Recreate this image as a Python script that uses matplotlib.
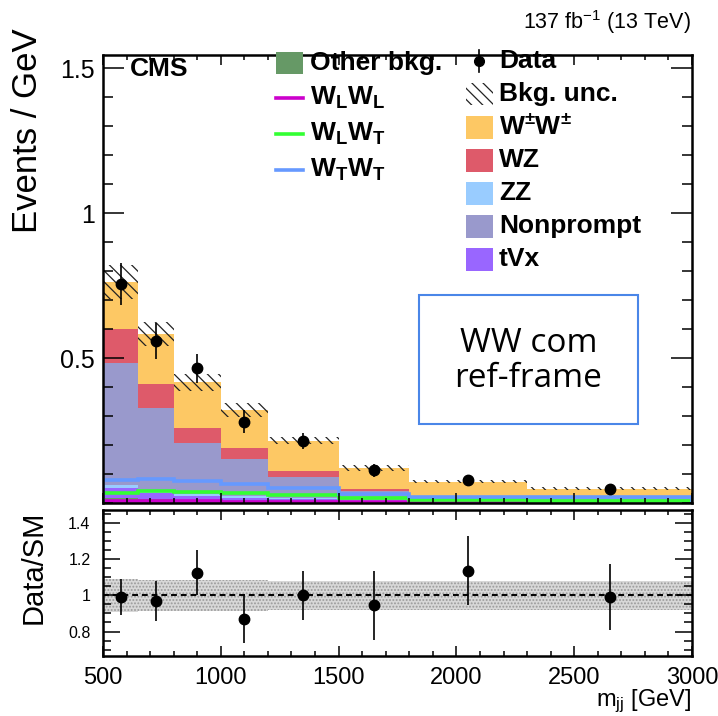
import numpy as np
import matplotlib
matplotlib.use("Agg")
import matplotlib.pyplot as plt
from matplotlib.patches import Rectangle
from matplotlib.lines import Line2D
from matplotlib.ticker import MultipleLocator, FixedLocator, FormatStrFormatter, NullFormatter

plt.rcParams['font.family'] = ['Liberation Sans', 'DejaVu Sans']
plt.rcParams['mathtext.fontset'] = 'custom'
plt.rcParams['mathtext.rm'] = 'Liberation Sans'
plt.rcParams['mathtext.bf'] = 'Liberation Sans:bold'
plt.rcParams['mathtext.default'] = 'regular'
plt.rcParams['hatch.linewidth'] = 0.9

# m_jj binning [GeV]
edges = np.array([500, 650, 800, 1000, 1200, 1500, 1800, 2300, 3000])

# stacked backgrounds + signal, events / GeV (bottom -> top)
other_bkg = [0.018, 0.015, 0.011, 0.008, 0.006, 0.004, 0.003, 0.002]
tvx       = [0.035, 0.020, 0.014, 0.010, 0.007, 0.004, 0.003, 0.002]
zz        = [0.010, 0.008, 0.006, 0.005, 0.004, 0.003, 0.002, 0.001]
nonprompt = [0.420, 0.286, 0.175, 0.129, 0.072, 0.029, 0.010, 0.012]
wz        = [0.117, 0.081, 0.054, 0.039, 0.022, 0.008, 0.004, 0.003]
wpmwpm    = [0.163, 0.173, 0.156, 0.130, 0.103, 0.073, 0.051, 0.030]
bkg_unc   = [0.058, 0.040, 0.029, 0.025, 0.012, 0.010, 0.005, 0.004]

# polarized W+-W+- components (overlaid, not stacked)
w_ll = [0.006, 0.007, 0.006, 0.005, 0.004, 0.003, 0.002, 0.002]
w_lt = [0.034, 0.042, 0.039, 0.036, 0.028, 0.016, 0.009, 0.008]
w_tt = [0.080, 0.083, 0.076, 0.066, 0.051, 0.031, 0.022, 0.020]

# observed
data     = [0.755, 0.558, 0.464, 0.280, 0.214, 0.113, 0.080, 0.050]
data_err = [0.072, 0.063, 0.050, 0.040, 0.028, 0.022, 0.012, 0.008]

# ratio panel
ratio     = [0.99, 0.97, 1.125, 0.87, 1.00, 0.945, 1.135, 0.99]
ratio_err = [0.10, 0.11, 0.125, 0.135, 0.135, 0.19, 0.19, 0.18]
ratio_unc = [0.09, 0.085, 0.085, 0.085, 0.08, 0.08, 0.08, 0.08]

c_other = '#669966'
c_tvx = '#9966ff'
c_zz = '#99ccff'
c_np = '#9999cc'
c_wz = '#de5a6a'
c_wpm = '#fdc864'
c_ll = '#cc00cc'
c_lt = '#33ff33'
c_tt = '#6699ff'

W, H = 718, 716
fig = plt.figure(figsize=(W / 100, H / 100), dpi=100)
ax = fig.add_axes([103 / W, 1 - 503 / H, 589 / W, 448 / H])
rax = fig.add_axes([103 / W, 1 - 656 / H, 589 / W, 146 / H])

centers = 0.5 * (edges[1:] + edges[:-1])

# stack
stack = [(other_bkg, c_other), (tvx, c_tvx), (zz, c_zz),
         (nonprompt, c_np), (wz, c_wz), (wpmwpm, c_wpm)]
base = np.zeros(len(centers))
for vals, col in stack:
    top = base + np.array(vals)
    ax.stairs(top, edges, baseline=base, fill=True, color=col, lw=0)
    base = top
total = base

# polarized components
ax.stairs(w_ll, edges, baseline=0, color=c_ll, lw=2.6)
ax.stairs(w_lt, edges, baseline=0, color=c_lt, lw=2.6)
ax.stairs(w_tt, edges, baseline=0, color=c_tt, lw=2.6)

# background uncertainty
unc = np.array(bkg_unc)
ax.stairs(total + unc, edges, baseline=total - unc, fill=True,
          facecolor='none', edgecolor='#222222', hatch='\\\\\\', lw=0)

ax.errorbar(centers, data, yerr=data_err, fmt='o', color='black',
            ms=7.5, elinewidth=1.2, capsize=0, zorder=5)

ax.set_xlim(500, 3000)
ax.set_ylim(0, 1.545)

# ratio panel
runc = np.array(ratio_unc)
rax.stairs(1 + runc, edges, baseline=1 - runc, fill=True,
           facecolor='#d8d8d8', edgecolor='#999999', hatch='.....', lw=0)
rax.axhline(1, color='black', ls=(0, (3, 2)), lw=1.4)
rax.errorbar(centers, ratio, yerr=ratio_err, fmt='o', color='black',
             ms=7.5, elinewidth=1.2, capsize=0, zorder=5)
rax.set_xlim(500, 3000)
rax.set_ylim(0.665, 1.47)

# ROOT-like frame and ticks
for a in (ax, rax):
    for s in a.spines.values():
        s.set_linewidth(1.8)
    a.tick_params(which='both', direction='in', top=True, right=True, width=1.1)
    a.xaxis.set_major_locator(MultipleLocator(500))
    a.xaxis.set_minor_locator(MultipleLocator(100))

ax.yaxis.set_major_locator(FixedLocator([0.5, 1.0, 1.5]))
ax.yaxis.set_minor_locator(MultipleLocator(0.1))
ax.yaxis.set_major_formatter(FormatStrFormatter('%g'))
ax.xaxis.set_major_formatter(NullFormatter())
ax.tick_params(axis='y', which='major', length=15, labelsize=18, pad=6)
ax.tick_params(axis='y', which='minor', length=7.5)
ax.tick_params(axis='x', which='major', length=7)
ax.tick_params(axis='x', which='minor', length=3.5)

rax.yaxis.set_major_locator(FixedLocator([0.8, 1.0, 1.2, 1.4]))
rax.yaxis.set_minor_locator(MultipleLocator(0.05))
rax.yaxis.set_major_formatter(FormatStrFormatter('%g'))
rax.tick_params(axis='y', which='major', length=12, labelsize=11.5, pad=9)
rax.tick_params(axis='y', which='minor', length=6)
rax.tick_params(axis='x', which='major', length=7, labelsize=17, pad=8)
rax.tick_params(axis='x', which='minor', length=3.5)

def fx(x):
    return x / W

def fy(y):
    return 1 - y / H

fig.text(fx(28), fy(131), 'Events / GeV', rotation=90, ha='center', va='center', fontsize=25)
fig.text(fx(34), fy(567), 'Data/SM', rotation=90, ha='center', va='center', fontsize=21)
fig.text(fx(691), fy(701), r'm$_{jj}$ [GeV]', ha='right', va='center', fontsize=17)
fig.text(fx(691), fy(22), r'137 fb$^{-1}$ (13 TeV)', ha='right', va='center', fontsize=15.5)
fig.text(fx(130), fy(69), 'CMS', ha='left', va='center', fontsize=19, fontweight='bold')

# legend, left column
leg_fs = 19
left_rows = [62.7, 98.3, 134, 170]
fig.add_artist(Rectangle((fx(276), fy(left_rows[0] + 11)), 27 / W, 22 / H,
                         transform=fig.transFigure, color=c_other, lw=0))
for yrow, col in zip(left_rows[1:], [c_ll, c_lt, c_tt]):
    fig.add_artist(Line2D([fx(276), fx(303)], [fy(yrow), fy(yrow)],
                          transform=fig.transFigure, color=col, lw=2.6))
left_labels = ['Other bkg.', r'$\mathbf{W_{L}W_{L}}$', r'$\mathbf{W_{L}W_{T}}$', r'$\mathbf{W_{T}W_{T}}$']
for yrow, lab in zip(left_rows, left_labels):
    fig.text(fx(310), fy(yrow), lab, ha='left', va='center', fontsize=leg_fs, fontweight='bold')

# legend, right column
right_rows = [61, 94, 127, 160, 193, 226, 259]
fig.add_artist(Line2D([fx(479), fx(479)], [fy(50), fy(72)], transform=fig.transFigure, color='black', lw=1.2))
fig.add_artist(Line2D([fx(479)], [fy(61)], transform=fig.transFigure, color='black',
                      marker='o', ms=7, ls='none'))
fig.add_artist(Rectangle((fx(466), fy(right_rows[1] + 11)), 27 / W, 22 / H,
                         transform=fig.transFigure, facecolor='none', edgecolor='#222222',
                         hatch='\\\\\\', lw=0))
for yrow, col in zip(right_rows[2:], [c_wpm, c_wz, c_zz, c_np, c_tvx]):
    fig.add_artist(Rectangle((fx(466), fy(yrow + 11.5)), 27 / W, 23 / H,
                             transform=fig.transFigure, color=col, lw=0))
right_labels = ['Data', 'Bkg. unc.', r'$\mathbf{W^{\pm}W^{\pm}}$', 'WZ', 'ZZ', 'Nonprompt', 'tVx']
for yrow, lab in zip(right_rows, right_labels):
    fig.text(fx(499), fy(yrow), lab, ha='left', va='center', fontsize=leg_fs, fontweight='bold')

# frame label box
fig.add_artist(Rectangle((fx(419), fy(424)), 219 / W, 129 / H, transform=fig.transFigure,
                         facecolor='white', edgecolor='#4a86e8', lw=1.5))
fig.text(fx(528.5), fy(361), 'WW com\nref-frame', ha='center', va='center',
         fontsize=24, family='Open Sans', linespacing=1.1)

fig.savefig('out.png', dpi=100)
